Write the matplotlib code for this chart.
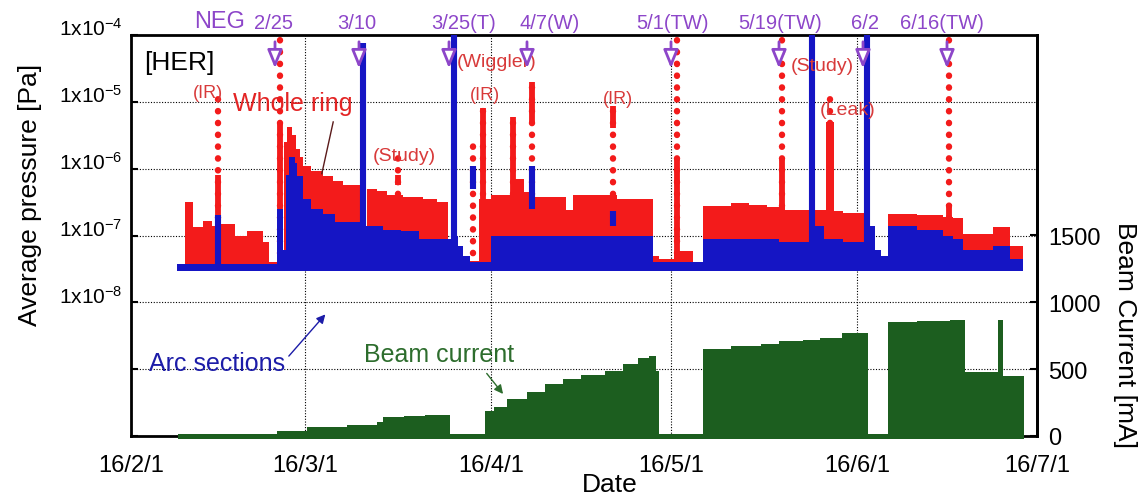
import numpy as np
import matplotlib
matplotlib.use("Agg")
import matplotlib.pyplot as plt
import matplotlib.dates as mdates
from matplotlib.ticker import FixedLocator, FuncFormatter, NullLocator

plt.rcParams["font.family"] = ["Liberation Sans", "DejaVu Sans"]
plt.rcParams["mathtext.fontset"] = "custom"
plt.rcParams["mathtext.rm"] = "Liberation Sans"
plt.rcParams["mathtext.it"] = "Liberation Sans:italic"
plt.rcParams["mathtext.bf"] = "Liberation Sans:bold"

# ---------------------------------------------------------------------
# data: days after 2016-02-01 (each value holds until the next day)
# ---------------------------------------------------------------------
T0 = mdates.datestr2num("2016-02-01")
P_FLOOR = 2.9e-8  # lowest pressure reading of the band [Pa]

# whole ring, upper edge of the scatter band [Pa]
red_day = [7.7, 9.0, 10.3, 12.0, 13.5, 14.8, 17.3, 19.3, 22.0, 23.0,
           25.5, 26.0, 26.8, 27.5, 28.2, 28.7, 30.0, 32.0, 33.7, 35.3,
           38.2, 39.3, 41.0, 42.7, 45.3, 48.7, 51.0, 52.8, 54.3, 55.0,
           56.5, 58.0, 60.0, 64.0, 65.5, 67.0, 72.5, 73.7, 79.0, 81.0,
           87.0, 88.0, 90.5, 93.7, 95.3, 100.0, 103.0, 106.0, 109.0, 114.0,
           115.8, 117.2, 118.7, 122.2, 123.0, 124.0, 125.0, 126.2, 131.0, 135.3,
           137.0, 138.7, 143.7, 146.5, 148.7]
red_top = [3.8e-8, 3.2e-7, 1.35e-7, 1.65e-7, 1.4e-7, 1.5e-7, 9.8e-8, 1.15e-7, 8e-8, 4e-8,
           2.5e-6, 4.2e-6, 3.2e-6, 2.0e-6, 1.5e-6, 1.1e-6, 9.3e-7, 7.9e-7, 6.6e-7, 5.6e-7,
           1.4e-7, 5.0e-7, 4.7e-7, 4.0e-7, 3.8e-7, 3.5e-7, 3.2e-7, 9e-8, 6e-8, 5e-8,
           4.2e-8, 3.5e-7, 4.0e-7, 7e-7, 4.5e-7, 3.8e-7, 2.4e-7, 4.0e-7, 4.0e-7, 3.5e-7,
           5e-8, 4.5e-8, 5.8e-8, 3.8e-8, 2.8e-7, 3.1e-7, 2.9e-7, 2.7e-7, 2.4e-7, 2.4e-7,
           5e-6, 2.3e-7, 2.2e-7, 2.2e-7, 1.4e-7, 6e-8, 5e-8, 2.1e-7, 2.0e-7, 1.9e-7,
           1.8e-7, 1.05e-7, 1.35e-7, 7e-8, 7e-8]

# arc sections, upper edge of the scatter band [Pa]
blue_day = [7.7, 24.3, 25.3, 25.8, 26.3, 27.3, 27.7, 28.7, 30.0, 32.0,
            34.0, 39.0, 42.0, 45.0, 48.0, 54.0, 54.5, 55.3, 56.5, 60.0,
            87.0, 95.3, 108.0, 114.0, 115.5, 118.7, 123.0, 124.0, 125.0, 126.2,
            131.0, 135.3, 137.0, 138.7, 143.7, 146.5, 148.7]
blue_top = [3.8e-8, 2.5e-7, 6e-8, 8e-7, 1.5e-6, 1.2e-6, 7.9e-7, 3.5e-7, 2.5e-7, 2.1e-7,
            1.6e-7, 1.4e-7, 1.2e-7, 1.15e-7, 9e-8, 1.0e-7, 7e-8, 5e-8, 4e-8, 1.0e-7,
            4e-8, 9e-8, 8e-8, 1.4e-7, 9e-8, 8e-8, 1.4e-7, 6e-8, 5e-8, 1.4e-7,
            1.2e-7, 1.0e-7, 9e-8, 6e-8, 7e-8, 4.5e-8, 4.5e-8]

# pressure bursts: dense part (lo..hi) and scattered points up to top
red_spike_day = [14.5, 24.8, 44.5, 57.0, 58.7, 63.7, 66.8, 80.3, 91.0, 108.5, 116.5, 136.3]
red_spike_lo = [3e-8, 3e-8, 5.6e-7, 3e-8, 3e-8, 3e-8, 5e-6, 4e-6, 3e-8, 3e-8, 3e-8, 3e-8]
red_spike_hi = [8e-7, 5e-6, 8e-7, 3e-8, 8e-6, 6e-6, 2e-5, 8.7e-6, 1.4e-6, 1.4e-6, 3e-8, 3e-7]
red_spike_top = [1.2e-5, 1e-4, 1.5e-6, 2.5e-6, 8e-6, 6e-6, 2e-5, 8.7e-6, 1e-4, 1e-4, 1.6e-5, 9e-5]

blue_spike_day = [14.5, 38.7, 53.8, 57.0, 66.8, 80.3, 113.5, 122.7]
blue_spike_lo = [3e-8, 3e-8, 3e-8, 5e-7, 2.5e-7, 1.4e-7, 3e-8, 3e-8]
blue_spike_hi = [2e-7, 7.5e-5, 1e-4, 1.1e-6, 1.1e-6, 2.3e-7, 1e-4, 1e-4]

# beam current, upper edge [mA]
beam_day = [7.8, 24.3, 29.3, 36.0, 41.0, 42.0, 45.5, 49.0, 53.2, 59.0,
            60.5, 62.7, 66.0, 69.0, 72.0, 75.0, 79.0, 82.0, 84.5, 86.3,
            87.5, 88.0, 95.3, 100.0, 105.0, 108.0, 112.0, 114.8, 118.5, 122.8,
            126.2, 131.0, 136.5, 139.0, 144.5, 145.3, 148.8]
beam_ma = [5, 37, 67, 85, 105, 142, 150, 160, 0, 190,
           220, 280, 330, 390, 430, 460, 490, 540, 580, 600,
           490, 0, 650, 670, 690, 710, 720, 735, 770, 0,
           850, 860, 870, 480, 870, 450, 450]

# NEG activation dates
neg_dates = ["2016-02-25", "2016-03-10", "2016-03-25", "2016-04-07",
             "2016-05-01", "2016-05-19", "2016-06-02", "2016-06-16"]
neg_labels = ["2/25", "3/10", "3/25(T)", "4/7(W)", "5/1(TW)", "5/19(TW)", "6/2", "6/16(TW)"]
neg_label_day = [23.7, 37.7, 55.5, 69.8, 90.2, 108.2, 122.3, 135.2]

RED = "#f31b1b"
BLUE = "#1515c4"
GREEN = "#1c5e1f"
PURPLE = "#8d46c9"
RED_TXT = "#d83a3a"

# ---------------------------------------------------------------------
fig = plt.figure(figsize=(11.42, 5.02), dpi=100)
ax = fig.add_axes([131 / 1142, 65 / 502, 906 / 1142, 401 / 502])
ax.set_yscale("log")
ax.set_ylim(1e-10, 1e-4)
ax.set_xlim(T0, T0 + 151)

# pressure bands
ax.fill_between(T0 + np.array(red_day), P_FLOOR, red_top, step="post",
                color=RED, lw=0, zorder=2)
ax.vlines(T0 + np.array(red_spike_day), red_spike_lo, red_spike_hi,
          colors=RED, lw=4.2, zorder=2)
# scattered points start inside the band so none hang below it
dots = ax.vlines(T0 + np.array(red_spike_day), 3.6e-8, red_spike_top,
                 colors=RED, lw=4.6, linestyles=[(0, (0.05, 1.8))], zorder=2)
dots.set_capstyle("round")

ax.fill_between(T0 + np.array(blue_day), P_FLOOR, blue_top, step="post",
                color=BLUE, lw=0, zorder=3)
ax.vlines(T0 + np.array(blue_spike_day), blue_spike_lo, blue_spike_hi,
          colors=BLUE, lw=4.4, zorder=3)

# axes cosmetics
ax.yaxis.set_major_locator(FixedLocator(10.0 ** np.arange(-10, -3)))
ax.yaxis.set_minor_locator(NullLocator())
ax.yaxis.set_major_formatter(FuncFormatter(
    lambda v, pos: "" if v < 5e-9 else r"1x10$^{%d}$" % round(np.log10(v))))
ax.xaxis.set_major_locator(mdates.MonthLocator())
ax.xaxis.set_major_formatter(FuncFormatter(
    lambda v, pos: "%d/%d/%d" % (mdates.num2date(v).year % 100,
                                 mdates.num2date(v).month,
                                 mdates.num2date(v).day)))
ax.grid(True, which="major", ls=(0, (1, 1.5)), color="black", lw=0.8)
ax.set_axisbelow(True)
ax.tick_params(axis="y", which="major", direction="in", length=5, width=1.5,
               labelsize=15, pad=6)
ax.tick_params(axis="x", direction="in", length=0, labelsize=17, pad=13)
for sp in ax.spines.values():
    sp.set_linewidth(2)

ax.set_ylabel("Average pressure [Pa]", fontsize=19, va="center")
ax.yaxis.set_label_coords(-0.112, 0.603)
ax.set_xlabel("Date", fontsize=19, va="center")
ax.xaxis.set_label_coords(0.528, -0.12)

# beam current on the right axis
ax2 = ax.twinx()
ax2.set_ylim(0, 3000)
green = ax2.fill_between(T0 + np.array(beam_day), -22, np.maximum(beam_ma, 15),
                         step="post", color=GREEN, lw=0)
green.set_clip_on(False)
ax2.set_yticks([0, 500, 1000, 1500])
ax2.tick_params(axis="y", direction="in", length=5, width=1.5, labelsize=17, pad=8)
for name, sp in ax2.spines.items():
    sp.set_visible(name == "right")
    sp.set_linewidth(2)
ax2.set_ylabel("Beam Current [mA]", fontsize=19, rotation=270, va="center")
ax2.yaxis.set_label_coords(1.097, 0.254)

# NEG markers along the top
xt = ax.get_xaxis_transform()
ax.text(T0 + 14.7, 1.035, "NEG", transform=xt, color=PURPLE, fontsize=17,
        ha="center", va="center", clip_on=False)
for d, lab, ld in zip(neg_dates, neg_labels, neg_label_day):
    ax.text(T0 + ld, 1.032, lab, transform=xt, color=PURPLE, fontsize=14.5,
            ha="center", va="center", clip_on=False)
    ax.annotate("", xy=(mdates.datestr2num(d), 0.91), xycoords=xt,
                xytext=(mdates.datestr2num(d), 0.99), textcoords=xt,
                arrowprops=dict(arrowstyle="-|>,head_length=1.1,head_width=0.45",
                                facecolor="white", edgecolor=PURPLE, lw=2),
                zorder=6)

# text notes
ax.text(T0 + 8.0, 3.95e-5, "[HER]", fontsize=19, ha="center", va="center", zorder=5)
ax.text(T0 + 12.8, 1.36e-5, "(IR)", color=RED_TXT, fontsize=13, ha="center", va="center", zorder=5)
ax.text(T0 + 27.0, 9.7e-6, "Whole ring", color="#e32424", fontsize=18, ha="center", va="center", zorder=5)
ax.plot([T0 + 33.7, T0 + 31.8], [5e-6, 8.4e-7], color="#5a1a1a", lw=1, zorder=5)
ax.text(T0 + 45.5, 1.56e-6, "(Study)", color=RED_TXT, fontsize=14, ha="center", va="center", zorder=5)
ax.text(T0 + 60.9, 3.95e-5, "(Wiggler)", color=RED_TXT, fontsize=14, ha="center", va="center", zorder=4)
ax.text(T0 + 59.0, 1.27e-5, "(IR)", color=RED_TXT, fontsize=13, ha="center", va="center", zorder=5)
ax.text(T0 + 81.2, 1.11e-5, "(IR)", color=RED_TXT, fontsize=13, ha="center", va="center", zorder=5)
ax.text(T0 + 115.3, 3.44e-5, "(Study)", color=RED_TXT, fontsize=14, ha="center", va="center", zorder=5)
ax.text(T0 + 119.5, 7.6e-6, "(Leak)", color=RED_TXT, fontsize=14, ha="center", va="center", zorder=5)

ax.text(T0 + 14.3, 1.23e-9, "Arc sections", color="#1c1ca8", fontsize=18, ha="center", va="center", zorder=5)
ax.annotate("", xy=(T0 + 32.7, 7.1e-9), xytext=(T0 + 26.0, 1.46e-9),
            arrowprops=dict(arrowstyle="-|>", color="#1c1ca8", lw=1, mutation_scale=13))
ax.text(T0 + 51.3, 1.67e-9, "Beam current", color="#2d6d2d", fontsize=18, ha="center", va="center", zorder=5)
ax.annotate("", xy=(T0 + 62.3, 3.95e-10), xytext=(T0 + 59.0, 9.3e-10),
            arrowprops=dict(arrowstyle="-|>", color="#2d6d2d", lw=1, mutation_scale=13))

for t in ax.yaxis.get_major_ticks():
    t.label1.set_va("baseline")

fig.savefig("out.png", dpi=100)
